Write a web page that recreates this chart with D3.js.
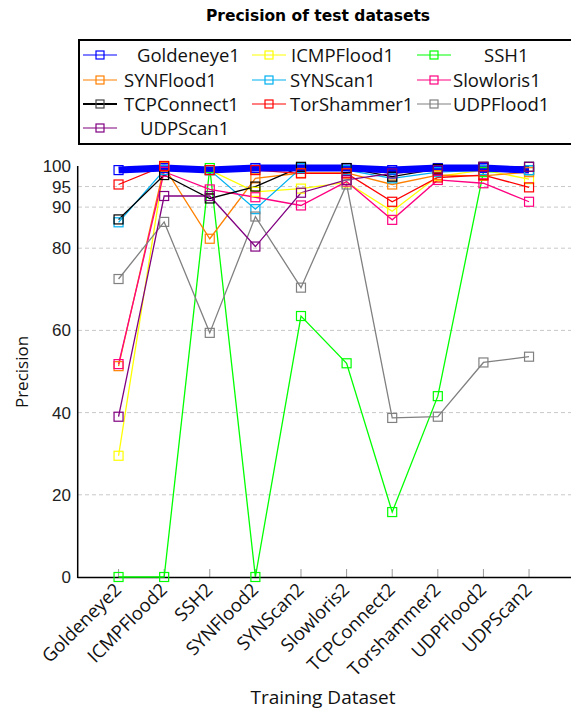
<!DOCTYPE html>
<html><head><meta charset="utf-8">
<script src="https://cdn.jsdelivr.net/npm/d3@7"></script>
<style>body{margin:0;background:#fff}svg{display:block}</style>
</head><body><svg id="c" width="571" height="714"></svg>
<script>
const categories = ["Goldeneye2","ICMPFlood2","SSH2","SYNFlood2","SYNScan2","Slowloris2","TCPConnect2","Torshammer2","UDPFlood2","UDPScan2"];
const seriesNames = ["Goldeneye1","ICMPFlood1","SSH1","SYNFlood1","SYNScan1","Slowloris1","TCPConnect1","TorShammer1","UDPFlood1","UDPScan1"];
const seriesColors = ["#0000ff","#ffff00","#00ff00","#ff8000","#00b0f0","#ff0080","#000000","#ff0000","#808080","#800080"];
const goldeneye1  = [99, 99.5, 99, 99.5, 99.5, 99.5, 99, 99.5, 99.5, 99];
const icmpflood1  = [29.5, 100, 99, 93.7, 94.5, 96, 89, 97.5, 99, 96.8];
const ssh1        = [0, 0, 99.5, 0, 63.5, 52, 15.8, 44, 98.5, 99];
const synflood1   = [51.3, 99.8, 82.3, 97, 98.3, 98.3, 95.5, 97.8, 97.6, 98.5];
const synscan1    = [86.3, 99, 99, 89.5, 99.5, 99, 97, 98.5, 99, 99];
const slowloris1  = [51.8, 98.6, 94.3, 92.4, 90.4, 96.2, 86.9, 96.6, 95.8, 91.3];
const tcpconnect1 = [87, 97.8, 92.1, 95, 99.8, 99.5, 97.4, 99.3, 99.8, 99.8];
const torshammer1 = [95.5, 100, 99, 99, 98.2, 98.2, 91.3, 97.2, 97.8, 94.8];
const udpflood1   = [72.5, 86.4, 59.4, 87.7, 70.4, 95.5, 38.7, 39, 52.2, 53.6];
const udpscan1    = [39, 92.7, 92.7, 80.4, 93.5, 96.6, 98.2, 99, 99.8, 99.8];
const yTicks = [0, 20, 40, 60, 80, 90, 95, 100];
const title = "Precision of test datasets";
const xTitle = "Training Dataset";
const yTitle = "Precision";

const values = [goldeneye1, icmpflood1, ssh1, synflood1, synscan1, slowloris1, tcpconnect1, torshammer1, udpflood1, udpscan1];
const series = seriesNames.map((n,i)=>({name:n, color:seriesColors[i], values:values[i]}));

const svg = d3.select("#c");
const FONT = "'Open Sans', sans-serif";
const x = d3.scaleLinear().domain([-0.9, 9.92]).range([77.5, 571]);
const y = d3.scaleLinear().domain([0, 100]).range([577, 166]);

// grid
svg.append("g").selectAll("line").data(yTicks.filter(t=>t>0 && t<100)).join("line")
  .attr("x1", 78).attr("x2", 571).attr("y1", d=>y(d)).attr("y2", d=>y(d))
  .attr("stroke", "#c8c8c8").attr("stroke-width", 1).attr("stroke-dasharray", "4,3");

// x ticks (inward, gray)
svg.append("g").selectAll("line").data(categories).join("line")
  .attr("x1", (d,i)=>x(i)).attr("x2", (d,i)=>x(i)).attr("y1", 577).attr("y2", 569)
  .attr("stroke", "#999").attr("stroke-width", 1);

// axes lines
svg.append("line").attr("x1", x(-0.9)).attr("x2", 571).attr("y1", 577.5).attr("y2", 577.5).attr("stroke","#000").attr("stroke-width",1.5);
svg.append("line").attr("x1", 77.7).attr("x2", 77.7).attr("y1", 166).attr("y2", 578).attr("stroke","#000").attr("stroke-width",1.5);

// y tick labels
svg.append("g").selectAll("text").data(yTicks).join("text")
  .attr("x", 71).attr("y", d=>y(d)).attr("dy","0.35em").attr("text-anchor","end")
  .attr("font-family", "'Liberation Sans', Arial, sans-serif").attr("font-size", 17).attr("fill","#222").text(d=>d);

// x tick labels
svg.append("g").selectAll("text").data(categories).join("text")
  .attr("transform", (d,i)=>`translate(${x(i)+4},${591}) rotate(-45)`)
  .attr("text-anchor","end").attr("font-family", FONT).attr("font-size", 18.5).attr("fill","#111").text(d=>d);

// titles
svg.append("text").attr("x", 318).attr("y", 21).attr("text-anchor","middle")
  .attr("font-family","'DejaVu Sans', sans-serif").attr("font-weight","bold").attr("font-size",15.5).text(title);
svg.append("text").attr("x", 323).attr("y", 704).attr("text-anchor","middle")
  .attr("font-family", FONT).attr("font-size", 19).attr("fill","#111").text(xTitle);
svg.append("text").attr("transform","translate(28,372) rotate(-90)").attr("text-anchor","middle")
  .attr("font-family", FONT).attr("font-size", 17).attr("fill","#111").text(yTitle);

// lines
const line = d3.line().x((d,i)=>x(i)).y(d=>y(d));
const order = [1,2,3,4,5,6,7,8,9,0];
svg.append("g").selectAll("path").data(order.map(i=>series[i])).join("path")
  .attr("d", d=>line(d.values)).attr("fill","none").attr("stroke", d=>d.color)
  .attr("stroke-width", d=>d.name==="Goldeneye1"?7:1.3);

// markers
const mg = svg.append("g");
series.forEach(s=>{
  mg.append("g").selectAll("rect").data(s.values).join("rect")
    .attr("x",(d,i)=>x(i)-4.5).attr("y",d=>y(d)-4.5).attr("width",9).attr("height",9)
    .attr("fill","none").attr("stroke", s.color).attr("stroke-width",1.2);
});

// legend
const lg = svg.append("g");
lg.append("rect").attr("x",79).attr("y",40).attr("width",520).attr("height",104)
  .attr("fill","#fff").attr("stroke","#000").attr("stroke-width",2);
const colX = [[83,117],[252,286],[417,451]];
const rowY = [55,80,104,128];
const textX = [137,291,484,124,290,453,124,290,453,140];
series.forEach((s,i)=>{
  const r = Math.floor(i/3), c = i%3;
  const [x1,x2] = colX[c]; const yy = rowY[r];
  lg.append("line").attr("x1",x1).attr("x2",x2).attr("y1",yy).attr("y2",yy).attr("stroke",s.color).attr("stroke-width",s.name==="TCPConnect1"?2:1.2);
  lg.append("rect").attr("x",(x1+x2)/2-4).attr("y",yy-4).attr("width",8).attr("height",8).attr("fill","none").attr("stroke", s.name==="TCPConnect1"?"#444":s.color).attr("stroke-width",1.2);
  lg.append("text").attr("x",textX[i]).attr("y",yy).attr("dy","0.36em").attr("font-family",FONT).attr("font-size",18.5).attr("fill","#111").text(s.name);
});
</script></body></html>
